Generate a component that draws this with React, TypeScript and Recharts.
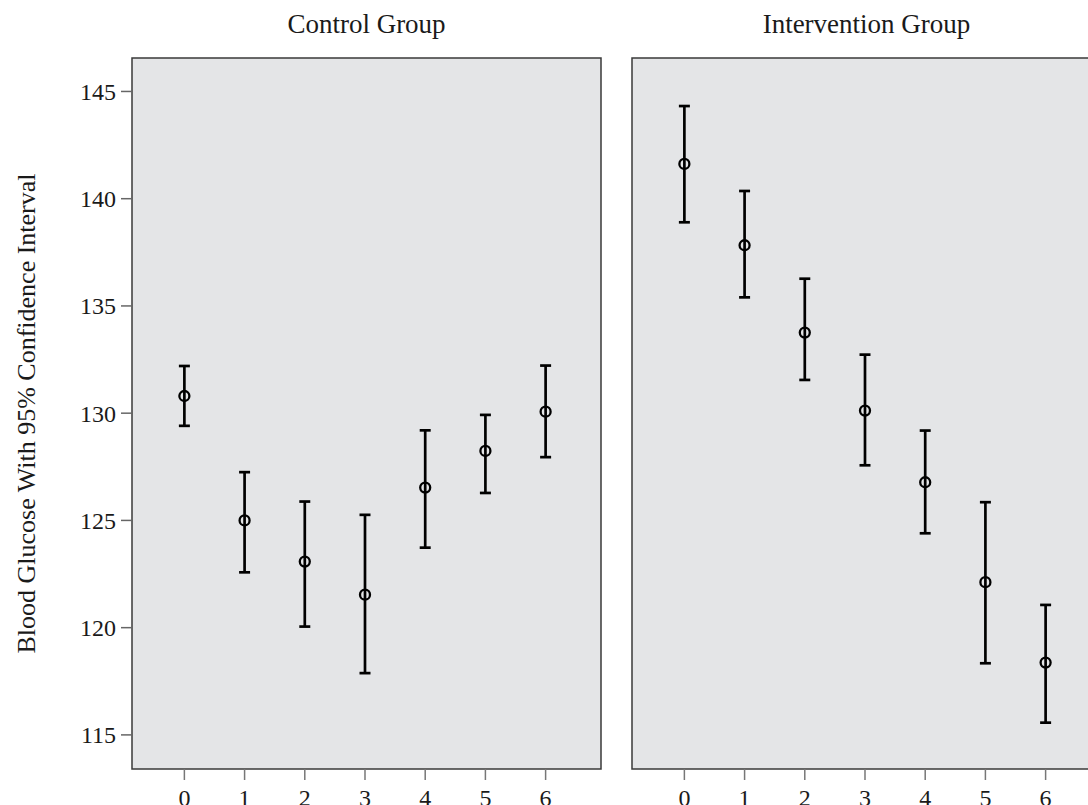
import React from 'react';
import { ScatterChart, Scatter, XAxis, YAxis, ErrorBar, CartesianGrid, ReferenceArea, Label } from 'recharts';

// time points (x axis) and the means / 95% CI bounds
const timePoints = [0, 1, 2, 3, 4, 5, 6];
const controlMean = [130.8, 125.0, 123.08, 121.54, 126.53, 128.24, 130.07];
const controlLower = [129.41, 122.58, 120.05, 117.88, 123.73, 126.28, 127.95];
const controlUpper = [132.2, 127.25, 125.88, 125.26, 129.2, 129.92, 132.22];
const interventionMean = [141.62, 137.83, 133.76, 130.12, 126.78, 122.12, 118.37];
const interventionLower = [138.9, 135.4, 131.55, 127.57, 124.4, 118.34, 115.57];
const interventionUpper = [144.32, 140.36, 136.27, 132.73, 129.19, 125.85, 121.06];
const yTicks = [115, 120, 125, 130, 135, 140, 145];

const X_DOMAIN: [number, number] = [-0.87, 6.92];
const Y_DOMAIN: [number, number] = [113.41, 146.56];
const FONT = '"Liberation Serif", "DejaVu Serif", serif';

const buildSeries = (mean: number[], lower: number[], upper: number[]) =>
  timePoints.map((t, i) => ({
    t,
    mean: mean[i],
    ci: [mean[i] - lower[i], upper[i] - mean[i]],
  }));

const controlData = buildSeries(controlMean, controlLower, controlUpper);
const interventionData = buildSeries(interventionMean, interventionLower, interventionUpper);

const OpenCircle = (props: any) => {
  const { cx, cy } = props;
  if (cx == null || cy == null) return null;
  return <circle cx={cx} cy={cy} r={5} fill="none" stroke="#000" strokeWidth={2.3} />;
};

const YTitle = (props: any) => {
  const vb = props.viewBox ?? { x: 0, y: 58, width: 132, height: 711 };
  const x = vb.x + 35;
  const y = vb.y + vb.height / 2;
  return (
    <text
      x={x}
      y={y}
      transform={`rotate(-90 ${x} ${y})`}
      textAnchor="middle"
      fontSize={26}
      fontFamily={FONT}
      fill="#1a1a1a"
    >
      Blood Glucose With 95% Confidence Interval
    </text>
  );
};

type PanelProps = {
  data: { t: number; mean: number; ci: number[] }[];
  showY: boolean;
  width: number;
  marginLeft: number;
};

function Panel({ data, showY, width, marginLeft }: PanelProps) {
  return (
    <ScatterChart
      width={width}
      height={805}
      margin={{ top: 58, right: 19, bottom: 0, left: marginLeft }}
      style={{ fontFamily: FONT }}
    >
      <CartesianGrid horizontal={false} vertical={false} fill="#e4e5e7" />
      <XAxis
        type="number"
        dataKey="t"
        domain={X_DOMAIN}
        allowDataOverflow
        ticks={timePoints}
        height={36}
        axisLine={false}
        tickSize={11}
        tickMargin={9}
        tickLine={{ stroke: '#777', strokeWidth: 1.5 }}
        tick={{ fontSize: 24, fill: '#1a1a1a', fontFamily: FONT }}
      />
      <YAxis
        type="number"
        dataKey="mean"
        domain={Y_DOMAIN}
        allowDataOverflow
        ticks={yTicks}
        hide={!showY}
        width={132}
        axisLine={false}
        tickSize={11}
        tickMargin={5}
        tickLine={{ stroke: '#666', strokeWidth: 1.5 }}
        tick={{ fontSize: 24, fill: '#1a1a1a', fontFamily: FONT }}
      >
        {showY && <Label content={<YTitle />} />}
      </YAxis>
      <ReferenceArea
        x1={X_DOMAIN[0]}
        x2={X_DOMAIN[1]}
        y1={Y_DOMAIN[0]}
        y2={Y_DOMAIN[1]}
        fill="none"
        stroke="#3a3a3a"
        strokeWidth={1.5}
        ifOverflow="extendDomain"
      />
      <Scatter data={data} shape={<OpenCircle />} isAnimationActive={false}>
        <ErrorBar dataKey="ci" direction="y" width={5.5} stroke="#000" strokeWidth={2.7} isAnimationActive={false} />
      </Scatter>
    </ScatterChart>
  );
}

const titleStyle: React.CSSProperties = {
  position: 'absolute',
  top: 11,
  width: 469,
  textAlign: 'center',
  fontFamily: FONT,
  fontSize: 27,
  lineHeight: '26px',
  color: '#1a1a1a',
};

export default function App() {
  return (
    <div
      style={{
        position: 'absolute',
        left: 0,
        top: 0,
        width: 1088,
        height: 805,
        overflow: 'hidden',
        background: '#fff',
      }}
    >
      <div style={{ position: 'absolute', left: 0, top: 0 }}>
        <Panel data={controlData} showY width={620} marginLeft={0} />
      </div>
      <div style={{ position: 'absolute', left: 600, top: 0 }}>
        <Panel data={interventionData} showY={false} width={520} marginLeft={32} />
      </div>
      <div style={{ ...titleStyle, left: 132 }}>Control Group</div>
      <div style={{ ...titleStyle, left: 632 }}>Intervention Group</div>
    </div>
  );
}
